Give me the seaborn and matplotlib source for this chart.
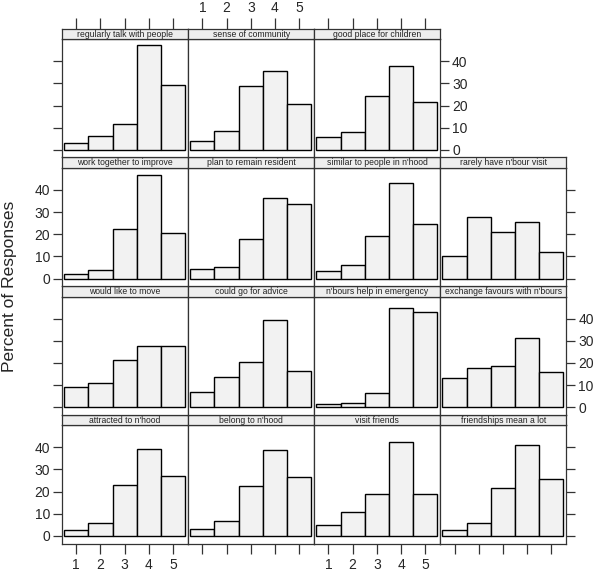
import numpy as np
import pandas as pd
import matplotlib
matplotlib.use("Agg")
import matplotlib.pyplot as plt
import seaborn as sns

# ---- data (panel order: lattice fills from bottom-left, row by row upward) ----
items = [
    "attracted to n'hood", "belong to n'hood", "visit friends", "friendships mean a lot",
    "would like to move", "could go for advice", "n'bours help in emergency",
    "exchange favours with n'bours",
    "work together to improve", "plan to remain resident", "similar to people in n'hood",
    "rarely have n'bour visit",
    "regularly talk with people", "sense of community", "good place for children",
]
responses = [1, 2, 3, 4, 5]

attracted = [2.6, 5.9, 22.8, 39.2, 26.9]
belong = [3.2, 6.6, 22.7, 38.9, 26.6]
visit_friends = [5.0, 10.8, 19.1, 42.4, 18.9]
friendships = [2.9, 5.9, 21.7, 40.8, 25.7]
would_move = [9.3, 11.1, 21.1, 27.4, 27.4]
advice = [7.1, 13.5, 20.3, 39.5, 16.4]
emergency = [1.4, 2.1, 6.5, 44.7, 42.9]
favours = [13.4, 17.6, 18.6, 31.1, 15.8]
work_together = [2.0, 3.9, 22.3, 46.5, 20.7]
remain = [4.1, 5.1, 17.7, 36.5, 33.8]
similar = [3.3, 6.0, 19.2, 43.3, 24.8]
rarely_visit = [10.0, 27.8, 21.0, 25.4, 11.9]
talk = [3.2, 6.4, 11.8, 47.1, 29.4]
community = [4.2, 8.6, 28.7, 35.6, 20.6]
children = [5.7, 8.0, 24.2, 37.9, 21.5]

series = [attracted, belong, visit_friends, friendships, would_move, advice, emergency,
          favours, work_together, remain, similar, rarely_visit, talk, community, children]

y_ticks = [0, 10, 20, 30, 40]
y_label = "Percent of Responses"

df = pd.DataFrame(
    [(it, r, v) for it, vals in zip(items, series) for r, v in zip(responses, vals)],
    columns=["item", "response", "percent"],
)

# ---- styling ----
sns.set_style("ticks")
plt.rcParams["font.family"] = ["Liberation Sans", "DejaVu Sans"]

W, H = 600, 572
fig = plt.figure(figsize=(6, 5.72), dpi=100)

left0 = 62.0
pw = 126.1
top0 = 28.7
row_h = 128.7
strip_h = 10.5
panel_h = row_h - strip_h

xlim = (0.41, 5.62)
ylim = (-3.4, 49.9)
frame_col = "#333333"
tick_fs = 10
tick_len = 6.5


def rect(x, y_top, w, h):
    return [x / W, 1 - (y_top + h) / H, w / W, h / H]


for i, item in enumerate(items):
    row_from_bottom = i // 4
    c = i % 4
    r = 3 - row_from_bottom
    x = left0 + c * pw
    st = top0 + r * row_h

    ax = fig.add_axes(rect(x, st + strip_h, pw, panel_h))
    sub = df[df["item"] == item]
    sns.histplot(data=sub, x="response", weights="percent", discrete=True,
                 color="#f2f2f2", alpha=1, edgecolor="black", linewidth=1.0, ax=ax)
    ax.set_xlim(*xlim)
    ax.set_ylim(*ylim)
    ax.set_xlabel("")
    ax.set_ylabel("")
    for sp in ax.spines.values():
        sp.set_color(frame_col)
        sp.set_linewidth(0.9)
        sp.set_visible(True)

    # y axis ticks
    ax.set_yticks(y_ticks)
    rightmost = (c == 3) or (r == 0 and c == 2)
    left_tick = c == 0
    left_lab = left_tick and r in (1, 3)
    right_lab = rightmost and r in (0, 2)
    ax.tick_params(axis="y", direction="out", length=tick_len, width=0.9, color=frame_col,
                   left=left_tick, labelleft=left_lab,
                   right=rightmost, labelright=right_lab, labelsize=tick_fs, pad=2)

    # x axis ticks (bottom row)
    ax.set_xticks(responses)
    bottom = r == 3
    ax.tick_params(axis="x", direction="out", length=tick_len + 1, width=0.9, color=frame_col,
                   bottom=bottom, labelbottom=bottom and c in (0, 2), top=False,
                   labeltop=False, labelsize=tick_fs, pad=3)

    # strip
    sax = fig.add_axes(rect(x, st, pw, strip_h))
    sax.set_facecolor("#eeeeee")
    sax.set_xlim(*xlim)
    sax.set_ylim(0, 1)
    sax.set_yticks([])
    for sp in sax.spines.values():
        sp.set_color(frame_col)
        sp.set_linewidth(0.9)
    sax.text(0.5, 0.48, item, transform=sax.transAxes, ha="center", va="center",
             fontsize=6.2, color="#222222")
    sax.set_xticks(responses)
    topr = r == 0
    sax.tick_params(axis="x", direction="out", length=tick_len + 1.5, width=0.9,
                    color=frame_col, bottom=False, labelbottom=False,
                    top=topr, labeltop=topr and c == 1, labelsize=tick_fs, pad=2)
    sax.tick_params(axis="y", left=False, right=False)

fig.text(10 / W, 1 - 286 / H, y_label, rotation=90, ha="center", va="center",
         fontsize=12.5)

fig.savefig("out.png", dpi=100)
